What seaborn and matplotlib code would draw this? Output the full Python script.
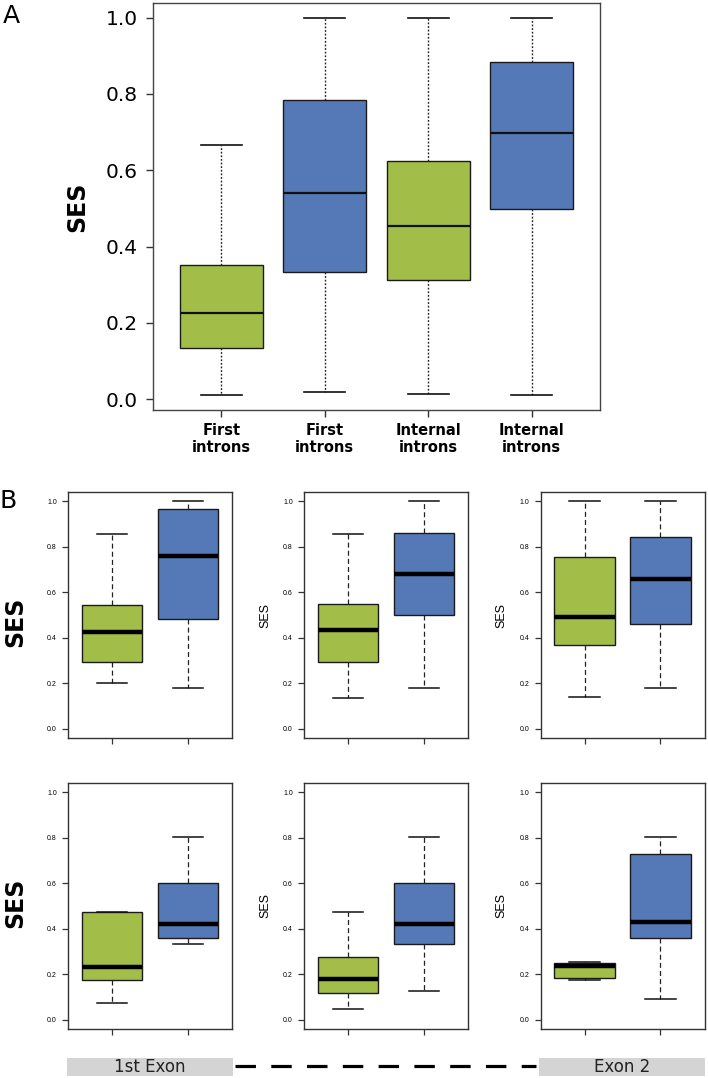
import numpy as np
import pandas as pd
import matplotlib
matplotlib.use("Agg")
import matplotlib.pyplot as plt
import seaborn as sns
from matplotlib.patches import Rectangle
from matplotlib.lines import Line2D

# ---------------- data (five-number summaries) -------------
GREEN = "#a2bd48"
BLUE = "#5579b6"

A_groups = ["first_ctrl", "first_test", "internal_ctrl", "internal_test"]
A_tick_labels = ["First\nintrons", "First\nintrons", "Internal\nintrons", "Internal\nintrons"]
A_kind = ["green", "blue", "green", "blue"]
A_min = [0.011, 0.020, 0.015, 0.011]
A_q1 = [0.134, 0.333, 0.313, 0.498]
A_med = [0.227, 0.541, 0.453, 0.697]
A_q3 = [0.351, 0.783, 0.624, 0.883]
A_max = [0.665, 1.000, 1.000, 1.000]

# Panel B: six small plots (row-major), each with a green and a blue box
B_kinds = ["green", "blue"]
B_min_green = [0.200, 0.134, 0.141, 0.075, 0.048, 0.174]
B_q1_green = [0.292, 0.292, 0.367, 0.173, 0.117, 0.186]
B_med_green = [0.424, 0.433, 0.493, 0.231, 0.178, 0.237]
B_q3_green = [0.545, 0.550, 0.755, 0.472, 0.275, 0.250]
B_max_green = [0.857, 0.857, 1.000, 0.472, 0.472, 0.253]
B_min_blue = [0.181, 0.181, 0.181, 0.335, 0.126, 0.091]
B_q1_blue = [0.481, 0.500, 0.462, 0.358, 0.335, 0.360]
B_med_blue = [0.757, 0.678, 0.659, 0.420, 0.420, 0.428]
B_q3_blue = [0.965, 0.862, 0.843, 0.601, 0.601, 0.728]
B_max_blue = [1.000, 1.000, 1.000, 0.801, 0.801, 0.801]

Y_TICKS = [0.0, 0.2, 0.4, 0.6, 0.8, 1.0]
EXON_LABELS = ["1st Exon", "Exon 2"]


def summary_frame(groups, kinds, mins, q1s, meds, q3s, maxs):
    rows = []
    for g, k, a, b, c, d, e in zip(groups, kinds, mins, q1s, meds, q3s, maxs):
        for v in (a, b, c, d, e):
            rows.append({"group": g, "kind": k, "SES": v})
    return pd.DataFrame(rows)


PALETTE = {"green": GREEN, "blue": BLUE}

W, H = 708, 1078
fig = plt.figure(figsize=(W / 100, H / 100), dpi=100)


def frame(left, top, w, h):
    return [left / W, 1 - (top + h) / H, w / W, h / H]


def style_spines(ax, lw=1.0, color="#333333"):
    for s in ax.spines.values():
        s.set_linewidth(lw)
        s.set_color(color)


# ---------------- Panel A ----------------
axA = fig.add_axes(frame(153, 3, 447, 407))
dfA = summary_frame(A_groups, A_kind, A_min, A_q1, A_med, A_q3, A_max)
sns.boxplot(
    data=dfA, x="group", y="SES", hue="kind", order=A_groups,
    hue_order=["green", "blue"], palette=PALETTE, dodge=False, width=0.8,
    whis=(0, 100), saturation=1, linecolor="#1a1a1a", linewidth=1.0,
    showfliers=False, legend=False, ax=axA,
    medianprops=dict(color="#111111", linewidth=1.6),
    whiskerprops=dict(color="#222222", linewidth=1.0, linestyle=(0, (1.3, 1.3))),
    capprops=dict(color="#111111", linewidth=1.2),
)
axA.set_xlim(-0.66, 3.66)
axA.set_ylim(-0.028, 1.038)
axA.set_yticks(Y_TICKS)
axA.set_yticklabels([f"{v:.1f}" for v in Y_TICKS], fontsize=14.5)
axA.set_xticks(range(len(A_groups)))
axA.set_xticklabels(A_tick_labels, fontsize=10.5, fontweight="bold")
axA.tick_params(axis="y", length=5, width=1, pad=6, color="#333333")
axA.tick_params(axis="x", length=5, width=1, pad=4, color="#333333")
axA.set_xlabel("")
axA.set_ylabel("")
axA.text(-0.17, 0.5, "SES", transform=axA.transAxes, rotation=90,
         ha="center", va="center", fontsize=17, fontweight="bold")
style_spines(axA, 1.0, "#444444")

fig.text(3 / W, 1 - 4 / H, "A", ha="left", va="top", fontsize=18)
fig.text(0 / W, 1 - 489 / H, "B", ha="left", va="top", fontsize=18)

# ---------------- Panel B ----------------
row_tops = [492, 783]
col_lefts = [68, 304, 540.5]
small_font = ["Liberation Sans", "DejaVu Sans"]

for i in range(6):
    r, c = divmod(i, 3)
    ax = fig.add_axes(frame(col_lefts[c], row_tops[r], 164, 246))
    df = summary_frame(
        B_kinds, B_kinds,
        [B_min_green[i], B_min_blue[i]],
        [B_q1_green[i], B_q1_blue[i]],
        [B_med_green[i], B_med_blue[i]],
        [B_q3_green[i], B_q3_blue[i]],
        [B_max_green[i], B_max_blue[i]],
    )
    sns.boxplot(
        data=df, x="group", y="SES", hue="kind", order=B_kinds,
        hue_order=B_kinds, palette=PALETTE, dodge=False, width=0.8,
        whis=(0, 100), saturation=1, linecolor="#1a1a1a", linewidth=1.0,
        showfliers=False, legend=False, ax=ax,
        medianprops=dict(color="#000000", linewidth=3.2),
        whiskerprops=dict(color="#222222", linewidth=0.9, linestyle=(0, (4, 2.5))),
        capprops=dict(color="#111111", linewidth=1.1),
    )
    ax.set_xlim(-0.58, 1.58)
    ax.set_ylim(-0.04, 1.04)
    ax.set_yticks(Y_TICKS)
    ax.set_yticklabels([f"{v:.1f}" for v in Y_TICKS], fontsize=5,
                       family=small_font)
    ax.set_xticks([0, 1])
    ax.set_xticklabels(["", ""])
    ax.tick_params(axis="y", length=4, width=0.9, pad=4, color="#333333")
    ax.tick_params(axis="x", length=4, width=0.9, color="#333333")
    ax.set_xlabel("")
    ax.set_ylabel("")
    style_spines(ax, 1.0, "#333333")
    if c > 0:
        ax.text(-0.237, 0.5, "SES", transform=ax.transAxes, rotation=90,
                ha="center", va="center", fontsize=9, family=small_font)

for yc in (622, 903):
    fig.text(15 / W, 1 - yc / H, "SES", rotation=90, ha="center", va="center",
             fontsize=17, fontweight="bold")

# ---------------- exon diagram ----------------
ov = fig.add_axes([0, 0, 1, 1], zorder=-1)
ov.set_xlim(0, W)
ov.set_ylim(H, 0)
ov.axis("off")
for (x0, x1), lab in zip([(67, 233), (539, 705)], EXON_LABELS):
    ov.add_patch(Rectangle((x0, 1058), x1 - x0, 18, facecolor="#d4d4d4",
                           edgecolor="none"))
    ov.text((x0 + x1) / 2, 1067, lab, ha="center", va="center", fontsize=12,
            color="#222222")
ov.add_line(Line2D([235, 536], [1066, 1066], color="black", linewidth=2.3,
                   linestyle=(0, (6.4, 4.8)), solid_capstyle="butt",
                   dash_capstyle="butt"))

fig.savefig("out.png", dpi=100)
